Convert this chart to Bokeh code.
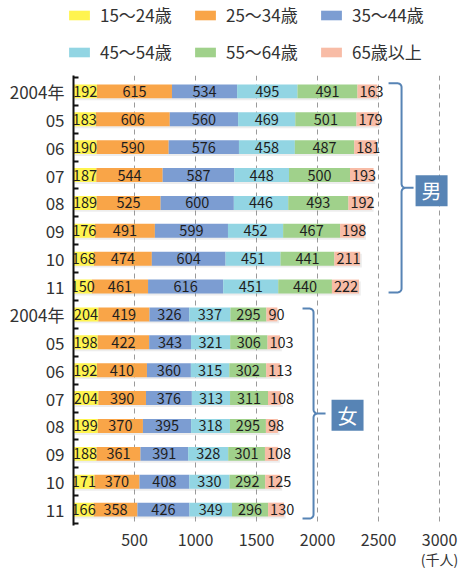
import numpy as np
from bokeh.plotting import figure
from bokeh.layouts import column
from bokeh.models import (ColumnDataSource, Range1d, FixedTicker, Legend, LegendItem,
                          LinearAxis)
from bokeh.core.properties import value
from bokeh.embed import file_html
from bokeh.resources import INLINE

# ---------------- data ----------------
years = ["2004年", "05", "06", "07", "08", "09", "10", "11"]
groups = ["15～24歳", "25～34歳", "35～44歳", "45～54歳", "55～64歳", "65歳以上"]

m15 = [192, 183, 190, 187, 189, 176, 168, 150]
m25 = [615, 606, 590, 544, 525, 491, 474, 461]
m35 = [534, 560, 576, 587, 600, 599, 604, 616]
m45 = [495, 469, 458, 448, 446, 452, 451, 451]
m55 = [491, 501, 487, 500, 493, 467, 441, 440]
m65 = [163, 179, 181, 193, 192, 198, 211, 222]

f15 = [204, 198, 192, 204, 199, 188, 171, 166]
f25 = [419, 422, 410, 390, 370, 361, 370, 358]
f35 = [326, 343, 360, 376, 395, 391, 408, 426]
f45 = [337, 321, 315, 313, 318, 328, 330, 349]
f55 = [295, 306, 302, 311, 295, 301, 292, 296]
f65 = [90, 103, 113, 108, 98, 108, 125, 130]

x_ticks = [500, 1000, 1500, 2000, 2500, 3000]
sex_labels = ["男", "女"]
unit_label = "(千人)"

colors = ["#fff44f", "#f9a548", "#7c9dd2", "#92d5e3", "#a0d18b", "#f8bca6"]
FONT = "Noto Sans CJK JP"
BLUE = "#5784b5"

# ---------------- legend figure ----------------
LEG_H = 67
lf = figure(width=462, height=LEG_H, output_backend="svg", toolbar_location=None,
            x_axis_type=None, y_axis_type=None, x_range=Range1d(0, 1),
            y_range=Range1d(0, 1), min_border=0)
lf.frame_align = False
lf.outline_line_color = None
lf.xgrid.grid_line_color = None
lf.ygrid.grid_line_color = None
# legend swatches: one bar per colour, kept outside the visible range
lrends = [lf.hbar(y=[5], left=[5], right=[6], height=0.5, fill_color=c, line_color=None)
          for c in colors]
items = [LegendItem(label=g, renderers=[r]) for g, r in zip(groups, lrends)]
legend = Legend(items=items, orientation="horizontal", ncols=3,
                location=(66, 3), glyph_width=26, glyph_height=12,
                label_standoff=8, label_width=80, label_height=20, spacing=12,
                padding=0, margin=0, border_line_color=None,
                background_fill_alpha=0, label_text_font=FONT,
                label_text_font_size="17px", label_text_color="#333333")
lf.add_layout(legend, "center")

# ---------------- main figure ----------------
n = len(years)
ypos = list(range(2 * n))
cols = ["g%d" % i for i in range(6)]
male = [m15, m25, m35, m45, m55, m65]
female = [f15, f25, f35, f45, f55, f65]
data = {"y": ypos}
for c, mv, fv in zip(cols, male, female):
    data[c] = list(mv) + list(fv)
source = ColumnDataSource(data)

p = figure(width=462, height=571 - LEG_H, output_backend="svg", toolbar_location=None,
           x_range=Range1d(0, 3188), y_range=Range1d(15.57, -0.57),
           min_border_left=73, min_border_right=0, min_border_top=75 - LEG_H,
           min_border_bottom=44)
p.frame_align = False
p.outline_line_color = None
p.background_fill_color = "white"

# shadow
vals = np.array([data[c] for c in cols], dtype=float)
totals = vals.sum(axis=0)
p.hbar(y=np.array(ypos) + 0.07, left=12, right=totals + 14, height=0.5,
       fill_color="#777777", fill_alpha=0.13, line_color=None)

rends = p.hbar_stack(cols, y="y", height=0.5, color=colors, source=source,
                     line_color=None)

# value labels
cum = np.cumsum(vals, axis=0)
starts = cum - vals
lx, ly, lt = [], [], []
for gi in range(5):
    for r in range(2 * n):
        lx.append((starts[gi, r] + cum[gi, r]) / 2)
        ly.append(ypos[r])
        lt.append(str(int(vals[gi, r])))
p.text(x=lx, y=ly, text=lt, text_align="center", text_baseline="middle",
       text_font=value(FONT), text_font_size="14.5px", text_color="#1e1e1e")
# last (narrow) segment: label starts at the segment's left edge
p.text(x=list(starts[5]), y=ypos, text=[str(int(v)) for v in vals[5]],
       x_offset=2, text_align="left", text_baseline="middle",
       text_font=value(FONT), text_font_size="14.5px", text_color="#1e1e1e")

# axes
xa = p.xaxis[0]
xa.ticker = FixedTicker(ticks=x_ticks)
xa.axis_line_color = None
xa.major_tick_in = 0
xa.major_tick_out = 0
xa.minor_tick_line_color = None
xa.major_label_standoff = 8
xa.major_label_text_font = FONT
xa.major_label_text_font_size = "16px"
xa.major_label_text_color = "#333333"

ux = LinearAxis(ticker=FixedTicker(ticks=[x_ticks[-1]]),
                major_label_overrides={x_ticks[-1]: unit_label},
                axis_line_color=None, major_tick_in=0, major_tick_out=0,
                minor_tick_line_color=None, major_label_standoff=0,
                major_label_text_font=FONT, major_label_text_font_size="14px",
                major_label_text_color="#333333")
p.add_layout(ux, "below")

ya = p.yaxis[0]
ya.ticker = FixedTicker(ticks=ypos, minor_ticks=[i - 0.5 for i in range(2 * n + 1)])
ya.major_label_overrides = {i: years[i % n] for i in ypos}
ya.axis_line_color = "#111111"
ya.axis_line_width = 2
ya.major_tick_in = 0
ya.major_tick_out = 0
ya.minor_tick_in = 5
ya.minor_tick_out = 0
ya.minor_tick_line_width = 2
ya.minor_tick_line_color = "#111111"
ya.major_label_standoff = 9
ya.major_label_text_font = FONT
ya.major_label_text_font_size = "17px"
ya.major_label_text_color = "#333333"

p.ygrid.grid_line_color = None
p.xgrid.grid_line_color = "#9a9a9a"
p.xgrid.grid_line_dash = "5 4"
p.xgrid.grid_line_width = 1
p.xgrid.level = "underlay"

# braces
px_x = 3000 / 366.0   # data units per pixel (x)
px_y = 1 / 28.0       # data units per pixel (y)

def brace(x0, ytop, ybot, arm=13, r=4, w=12):
    ymid = (ytop + ybot) / 2
    xv = x0 + arm * px_x
    X, Y = [x0], [ytop]
    def arc(cx, cy, a0, a1):
        t = np.linspace(a0, a1, 8)
        X.extend(cx + r * px_x * np.cos(t))
        Y.extend(cy + r * px_y * np.sin(t))
    arc(xv - r * px_x, ytop + r * px_y, -np.pi / 2, 0)
    arc(xv + r * px_x, ymid - r * px_y, np.pi, np.pi / 2)
    X.append(xv + w * px_x); Y.append(ymid)
    X.append(xv + r * px_x); Y.append(ymid)
    arc(xv + r * px_x, ymid + r * px_y, -np.pi / 2, -np.pi)
    arc(xv - r * px_x, ybot - r * px_y, 0, np.pi / 2)
    X.append(x0); Y.append(ybot)
    p.line(X, Y, line_color=BLUE, line_width=2)
    return xv, ymid

vm = brace(2582, -0.29, 7.21, arm=13)
vf = brace(1877, 7.79, 15.32, arm=11)

box_x = [vm[0] + 30 * px_x, vf[0] + 34 * px_x]
box_y = [vm[1] + 0.1, vf[1] + 0.06]
p.rect(x=box_x, y=box_y, width=32, height=31, width_units="screen",
       height_units="screen", fill_color=BLUE, line_color=None)
p.text(x=box_x, y=box_y, text=sex_labels, text_align="center",
       text_baseline="middle", text_font=value(FONT), text_font_size="20px",
       text_color="white")

layout = column(lf, p, spacing=0)
open("out.html", "w").write(file_html(layout, INLINE))
